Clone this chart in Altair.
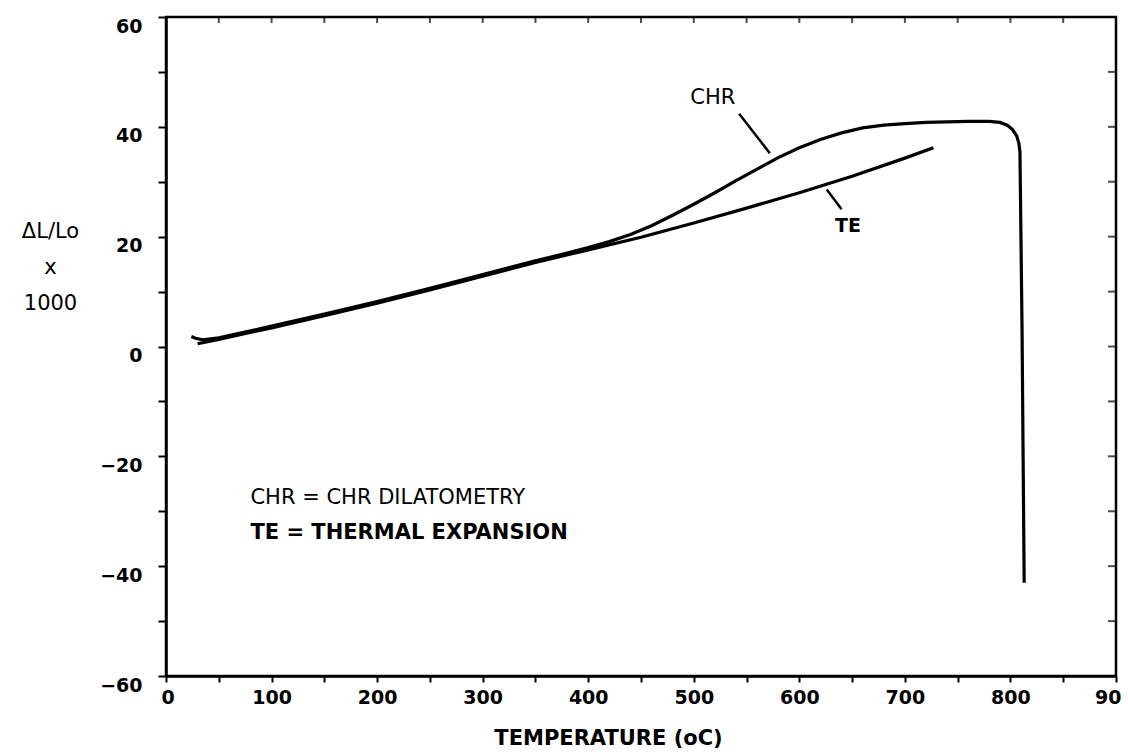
import altair as alt
import pandas as pd

# CHR dilatometry trace: temperature (°C) vs ΔL/Lo x 1000
chr_temp = [24, 28, 35, 50, 100, 150, 200, 250, 300, 350, 380, 400, 420, 440, 460,
            480, 500, 520, 540, 560, 580, 600, 620, 640, 660, 680, 700, 720, 740,
            760, 780, 790, 797, 802, 806, 808, 809, 811, 812, 813]
chr_val = [1.8, 1.5, 1.2, 1.6, 3.7, 5.9, 8.2, 10.6, 13.1, 15.6, 17.0, 18.0, 19.1,
           20.4, 22.0, 23.9, 25.9, 28.0, 30.2, 32.3, 34.4, 36.2, 37.7, 38.9, 39.8,
           40.3, 40.6, 40.8, 40.9, 41.0, 41.0, 40.8, 40.3, 39.5, 38.3, 37.0, 35.5,
           3.0, -20.0, -43.0]

# Thermal expansion trace
te_temp = [30, 50, 100, 150, 200, 250, 300, 350, 400, 450, 500, 550, 600, 650, 700, 727]
te_val = [0.5, 1.3, 3.4, 5.6, 7.9, 10.3, 12.8, 15.3, 17.6, 19.9, 22.5, 25.2, 28.0,
          31.0, 34.3, 36.2]

# Axis ticks and labels
x_ticks = list(range(0, 901, 50))
x_label_values = [0, 100, 200, 300, 400, 500, 600, 700, 800, 900]
x_label_texts = ["0", "100", "200", "300", "400", "500", "600", "700", "800", "90"]
y_ticks = list(range(-60, 61, 10))
y_label_values = [-60, -40, -20, 0, 20, 40, 60]
right_ticks = list(range(-50, 51, 10))
top_ticks = list(range(50, 851, 50))

# Curve annotations: label position and leader line (temperature, value)
ann_text = ["CHR", "TE"]
ann_x = [518, 646]
ann_y = [45.3, 22.0]
ann_weight = ["normal", "bold"]
lead_x1 = [543, 626]
lead_y1 = [42.4, 28.6]
lead_x2 = [572, 640]
lead_y2 = [35.2, 25.0]

# Key text
key_text = ["CHR = CHR DILATOMETRY", "TE = THERMAL EXPANSION"]
key_x = [80, 80]
key_y = [-27.6, -34.0]

FONT = "DejaVu Sans"

x_scale = alt.Scale(domain=[0, 900], nice=False, zero=False)
y_scale = alt.Scale(domain=[-60, 60], nice=False, zero=False)

x_expr = " : ".join(
    f"datum.value == {v} ? '{t}'" for v, t in zip(x_label_values, x_label_texts)
) + " : ''"
y_expr = " : ".join(
    f"datum.value == {v} ? datum.label" for v in y_label_values
) + " : ''"

x_axis = alt.Axis(
    values=x_ticks, labelExpr=x_expr, grid=False,
    domainColor="black", domainWidth=2.5, tickColor="black", tickWidth=2, tickSize=6,
    labelFont=FONT, labelFontSize=19, labelFontWeight="bold", labelColor="black",
    labelPadding=6, labelFlush=True, labelFlushOffset=5, labelOverlap=False,
    title="TEMPERATURE (oC)", titleFont=FONT, titleFontSize=21, titleFontWeight="bold",
    titleColor="black", titleX=442, titleY=62, titleAnchor="middle",
    titleAlign="center", titleBaseline="middle",
)
y_axis = alt.Axis(
    values=y_ticks, labelExpr=y_expr, grid=False,
    domainColor="black", domainWidth=2.5, tickColor="black", tickWidth=2, tickSize=8,
    labelFont=FONT, labelFontSize=19, labelFontWeight="bold", labelColor="black",
    labelPadding=16, labelOffset=9, labelFlush=False, labelOverlap=False,
    title=["ΔL/Lo", "x", "1000"], titleFont=FONT, titleFontSize=21,
    titleFontWeight="normal", titleColor="black", titleAngle=0,
    titleAlign="center", titleBaseline="middle", titleX=-116, titleY=214,
    titleLineHeight=36,
)

curves = pd.concat([
    pd.DataFrame({"temp": chr_temp, "val": chr_val, "series": "CHR"}),
    pd.DataFrame({"temp": te_temp, "val": te_val, "series": "TE"}),
])

lines = alt.Chart(curves).mark_line(color="black", strokeWidth=3.2).encode(
    x=alt.X("temp:Q", scale=x_scale, axis=x_axis),
    y=alt.Y("val:Q", scale=y_scale, axis=y_axis),
    detail="series:N",
)

# inward ticks along the right and top borders
rt = alt.Chart(pd.DataFrame({"v": right_ticks})).mark_tick(
    orient="horizontal", size=16, thickness=2, color="black", clip=True
).encode(x=alt.datum(900), y=alt.Y("v:Q", scale=y_scale))

tt = alt.Chart(pd.DataFrame({"t": top_ticks})).mark_tick(
    orient="vertical", size=12, thickness=2, color="black", clip=True
).encode(x=alt.X("t:Q", scale=x_scale), y=alt.datum(60))

ann = pd.DataFrame({
    "text": ann_text, "x": ann_x, "y": ann_y, "w": ann_weight,
    "x1": lead_x1, "y1": lead_y1, "x2": lead_x2, "y2": lead_y2,
})

leaders = alt.Chart(ann).mark_rule(color="black", strokeWidth=2.5).encode(
    x=alt.X("x1:Q", scale=x_scale), y=alt.Y("y1:Q", scale=y_scale),
    x2="x2:Q", y2="y2:Q",
)

ann_chr = alt.Chart(ann[ann.w == "normal"]).mark_text(
    font=FONT, fontSize=21, color="black", align="center", baseline="middle"
).encode(x=alt.X("x:Q", scale=x_scale), y=alt.Y("y:Q", scale=y_scale), text="text:N")

ann_te = alt.Chart(ann[ann.w == "bold"]).mark_text(
    font=FONT, fontSize=19, fontWeight="bold", color="black",
    align="center", baseline="middle"
).encode(x=alt.X("x:Q", scale=x_scale), y=alt.Y("y:Q", scale=y_scale), text="text:N")

key = pd.DataFrame({"text": key_text, "x": key_x, "y": key_y})
key1 = alt.Chart(key.iloc[[0]]).mark_text(
    font=FONT, fontSize=21, color="black", align="left", baseline="middle"
).encode(x=alt.X("x:Q", scale=x_scale), y=alt.Y("y:Q", scale=y_scale), text="text:N")
key2 = alt.Chart(key.iloc[[1]]).mark_text(
    font=FONT, fontSize=21, fontWeight="bold", color="black", align="left",
    baseline="middle"
).encode(x=alt.X("x:Q", scale=x_scale), y=alt.Y("y:Q", scale=y_scale), text="text:N")

chart = alt.layer(lines, rt, tt, leaders, ann_chr, ann_te, key1, key2).properties(
    width=950, height=659,
    padding={"left": 166, "top": 17, "right": 12, "bottom": 76},
    autosize=alt.AutoSizeParams(type="none"),
    background="white",
).configure_view(stroke="black", strokeWidth=2.5)

chart.save("out.html", embed_options={"renderer": "svg", "actions": False})
